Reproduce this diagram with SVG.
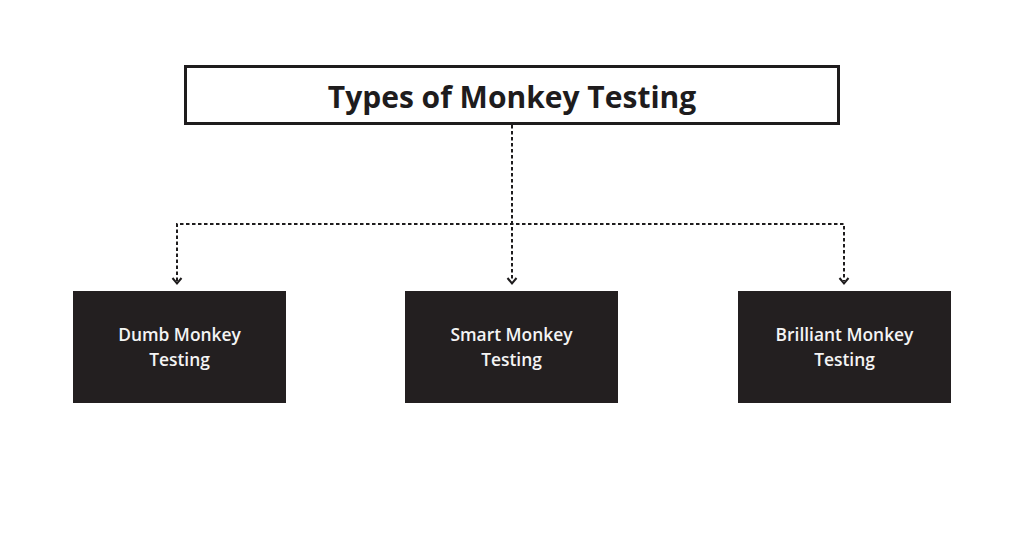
<svg xmlns="http://www.w3.org/2000/svg" width="1024" height="536" viewBox="0 0 1024 536">
<style>
.title{font-family:"Open Sans","Liberation Sans",sans-serif;font-weight:700;font-size:30px;fill:#1e1c1d}
.lbl{font-family:"Open Sans","Liberation Sans",sans-serif;font-weight:600;font-size:17.4px;fill:#f4f4f4}
.box{fill:#231f20}
.conn{fill:none;stroke:#1e1c1d;stroke-width:2;stroke-dasharray:3.5 2.5}
.head{fill:none;stroke:#1e1c1d;stroke-width:2}
</style>
<rect width="1024" height="536" fill="#ffffff"/>
<g id="root">
<rect x="185.5" y="66.5" width="653" height="57" fill="#ffffff" stroke="#1e1c1d" stroke-width="3"/>
<text class="title" x="512" y="107.5" text-anchor="middle">Types of Monkey Testing</text>
</g>
<g id="connectors">
<path class="conn" d="M512 125 V281"/>
<path class="conn" d="M177 281 V224 H844 V281"/>
<path class="head" d="M172.5 278 L177 283.5 L181.5 278"/>
<path class="head" d="M507.5 278 L512 283.5 L516.5 278"/>
<path class="head" d="M839.5 278 L844 283.5 L848.5 278"/>
</g>
<g id="dumb">
<rect class="box" x="73" y="291" width="213" height="112"/>
<text class="lbl" x="179.5" y="341" text-anchor="middle">Dumb Monkey</text>
<text class="lbl" x="179.5" y="366" text-anchor="middle">Testing</text>
</g>
<g id="smart">
<rect class="box" x="405" y="291" width="213" height="112"/>
<text class="lbl" x="511.5" y="341" text-anchor="middle">Smart Monkey</text>
<text class="lbl" x="511.5" y="366" text-anchor="middle">Testing</text>
</g>
<g id="brilliant">
<rect class="box" x="738" y="291" width="213" height="112"/>
<text class="lbl" x="844.5" y="341" text-anchor="middle">Brilliant Monkey</text>
<text class="lbl" x="844.5" y="366" text-anchor="middle">Testing</text>
</g>
</svg>
